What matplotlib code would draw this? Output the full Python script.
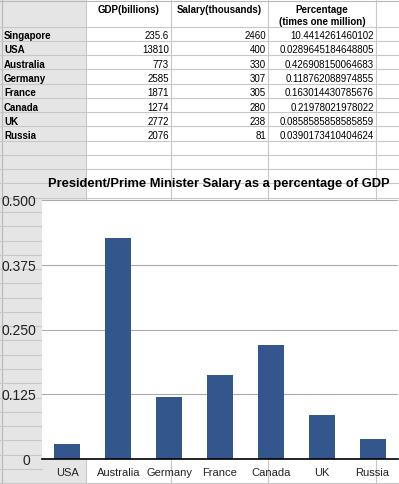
import matplotlib as mpl

mpl.rcParams['font.family'] = ['Liberation Sans', 'DejaVu Sans']

import matplotlib.pyplot as plt
import matplotlib.transforms as mtransforms

W, H = 399, 485

countries = ["Singapore", "USA", "Australia", "Germany", "France", "Canada", "UK", "Russia"]
gdp = [235.6, 13810, 773, 2585, 1871, 1274, 2772, 2076]
salary = [2460, 400, 330, 307, 305, 280, 238, 81]
pct = ["10.4414261460102", "0.0289645184648805", "0.426908150064683", "0.118762088974855",
       "0.163014430785676", "0.21978021978022", "0.0858585858585859", "0.0390173410404624"]

headers = ["GDP(billions)", "Salary(thousands)", "Percentage\n(times one million)"]
title = "President/Prime Minister Salary as a percentage of GDP"

# chart leaves out Singapore
chart_names = countries[1:]
chart_vals = [float(p) for p in pct[1:]]
yticks = [0, 0.125, 0.25, 0.375, 0.5]
ytick_labels = ["0", "0.125", "0.250", "0.375", "0.500"]

fig = plt.figure(figsize=(W/100, H/100), dpi=100)

# spreadsheet background, in pixel units
bg = fig.add_axes([0, 0, 1, 1])
bg.set_xlim(0, W)
bg.set_ylim(H, 0)
bg.axis('off')

col_x = [86, 171, 268, 376]
row_top = 27.5
row_h = 14.27
grid_c = '#c8c8c8'

bg.add_patch(plt.Rectangle((0, 0), col_x[0], H, color='#e5e5e5', lw=0))
bg.plot([0, W], [1.5, 1.5], color='#b8b8b8', lw=0.8)
bg.plot([1.5, 1.5], [0, H], color='#b8b8b8', lw=0.8)
for k in range(33):
    y = row_top + k*row_h
    # below the chart title only the row header edge shows the rows
    x1 = W if (y < 200 or y > 480) else 42
    bg.plot([0, x1], [y, y], color=grid_c, lw=0.8)
for x in col_x:
    bg.plot([x, x], [0, H], color=grid_c, lw=0.8)

fs = 7.0
for i, h in enumerate(headers):
    cx = (col_x[i] + col_x[i+1]) / 2
    for j, line in enumerate(h.split("\n")):
        bg.text(cx, 13.3 + j*11.7, line, ha='center', va='baseline', fontsize=fs, weight='bold')

for r, name in enumerate(countries):
    yb = row_top + r*row_h + 11.7
    bg.text(4, yb, name, ha='left', va='baseline', fontsize=fs, weight='bold')
    bg.text(col_x[1] - 2, yb, '%g' % gdp[r], ha='right', va='baseline', fontsize=fs)
    bg.text(col_x[2] - 2, yb, str(salary[r]), ha='right', va='baseline', fontsize=fs)
    bg.text(col_x[3] - 2, yb, pct[r], ha='right', va='baseline', fontsize=fs)

bg.text(218.5, 186.7, title, ha='center', va='baseline', fontsize=9.3, weight='bold')

# the chart
ax = fig.add_axes([42/W, (H-460)/H, (398-42)/W, (460-201)/H])
ax.set_facecolor('white')
ax.bar(range(len(chart_vals)), chart_vals, width=0.51, color='#33578c', zorder=3)
ax.set_xlim(-0.5, len(chart_vals) - 0.5)
ax.set_ylim(0, 0.5)
ax.set_yticks(yticks)
ax.yaxis.grid(True, color='#aaaaaa', lw=0.8)
ax.set_axisbelow(True)
ax.tick_params(axis='y', left=False, labelleft=False)
for s in ['left', 'right', 'top']:
    ax.spines[s].set_visible(False)
ax.spines['bottom'].set_color('black')
ax.spines['bottom'].set_linewidth(1.2)
ax.spines['bottom'].set_zorder(4)
ax.set_xticks(range(len(chart_names)), chart_names)
ax.tick_params(axis='x', length=0, pad=6, labelsize=8, labelcolor='#222222')

trans = mtransforms.blended_transform_factory(bg.transData, ax.transData)
trans = mtransforms.offset_copy(trans, fig=fig, y=-5, units='dots')
for v, lab in zip(yticks, ytick_labels):
    if lab == "0":
        fig.text(26, v, lab, ha='center', va='baseline', fontsize=10, color='#222222', transform=trans)
    else:
        fig.text(2, v, lab, ha='left', va='baseline', fontsize=10, color='#222222', transform=trans)

fig.savefig("out.png", dpi=100)
